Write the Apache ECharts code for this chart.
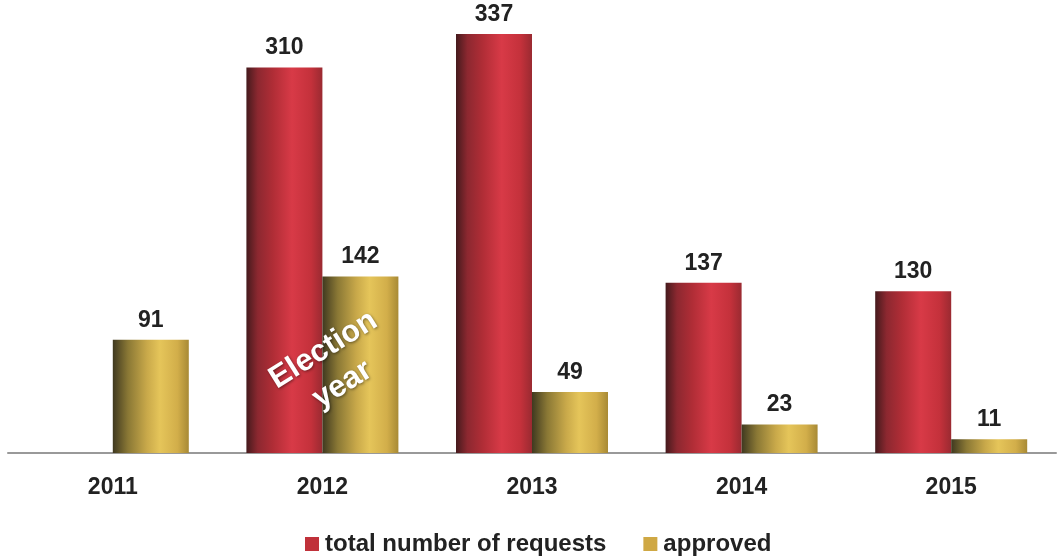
<!DOCTYPE html>
<html>
<head>
<meta charset="utf-8">
<script src="https://cdn.jsdelivr.net/npm/echarts@6/dist/echarts.min.js"></script>
<style>html,body{margin:0;padding:0;background:#fff;}#main{width:1058px;height:558px;}</style>
</head>
<body>
<div id="main"></div>
<script>
const categories = ['2011', '2012', '2013', '2014', '2015'];
const totalRequests = ['-', 310, 337, 137, 130];
const approved = [91, 142, 49, 23, 11];
const annotationLines = ['Election', 'year'];

const FONT = '"Liberation Sans", Arial, sans-serif';
function grad(stops) {
  return new echarts.graphic.LinearGradient(0, 0, 1, 0, stops.map(s => ({offset: s[0], color: s[1]})));
}
const redGrad = grad([[0, '#451a1d'], [0.15, '#8c2830'], [0.35, '#b02d36'], [0.6, '#d83a47'], [0.85, '#c4313b'], [1, '#9a2a31']]);
const goldGrad = grad([[0, '#3f3920'], [0.2, '#8a7835'], [0.45, '#c9a94a'], [0.62, '#e5c55a'], [0.85, '#d2ae4a'], [1, '#a88a35']]);

const chart = echarts.init(document.getElementById('main'));
const labelStyle = {show: true, position: 'top', distance: 8, color: '#222', fontFamily: FONT, fontWeight: 'bold', fontSize: 23};
chart.setOption({
  animation: false,
  backgroundColor: '#fff',
  grid: {left: 8, right: 2, top: 34, bottom: 105},
  legend: {
    top: 527, left: 300, itemWidth: 14, itemHeight: 14, itemGap: 37,
    icon: 'rect',
    textStyle: {fontFamily: FONT, fontWeight: 'bold', fontSize: 24, color: '#222', padding: [0, 0, 0, 1]},
    data: [
      {name: 'total number of requests', itemStyle: {color: '#c0313a'}},
      {name: 'approved', itemStyle: {color: '#cfa844'}}
    ]
  },
  xAxis: {
    type: 'category', data: categories,
    axisLine: {lineStyle: {color: '#999', width: 2}},
    axisTick: {show: false},
    axisLabel: {color: '#222', fontFamily: FONT, fontWeight: 'bold', fontSize: 23, margin: 23}
  },
  yAxis: {type: 'value', min: 0, max: 337, show: false, splitLine: {show: false}},
  series: [
    {name: 'total number of requests', type: 'bar', data: totalRequests, barWidth: 76, barGap: '0%',
     itemStyle: {color: redGrad}, label: labelStyle},
    {name: 'approved', type: 'bar', data: approved, barWidth: 76, barGap: '0%',
     itemStyle: {color: goldGrad}, label: labelStyle}
  ]
});

const p1 = chart.convertToPixel({xAxisIndex: 0, yAxisIndex: 0}, [categories[1], 83]);
const p2 = chart.convertToPixel({xAxisIndex: 0, yAxisIndex: 0}, [categories[1], 55]);
const rot = 32 * Math.PI / 180;
const txtStyle = {fill: '#fff', fontFamily: FONT, fontWeight: 'bold', fontSize: 31, align: 'center', verticalAlign: 'middle',
  textShadowColor: 'rgba(0,0,0,0.45)', textShadowBlur: 3, textShadowOffsetX: 1, textShadowOffsetY: 1};
chart.setOption({
  graphic: [
    {type: 'text', x: p1[0] + 1, y: p1[1], rotation: rot, z: 100, style: Object.assign({text: annotationLines[0]}, txtStyle)},
    {type: 'text', x: p2[0] + 20, y: p2[1], rotation: rot, z: 100, style: Object.assign({text: annotationLines[1]}, txtStyle)}
  ]
});
</script>
</body>
</html>
